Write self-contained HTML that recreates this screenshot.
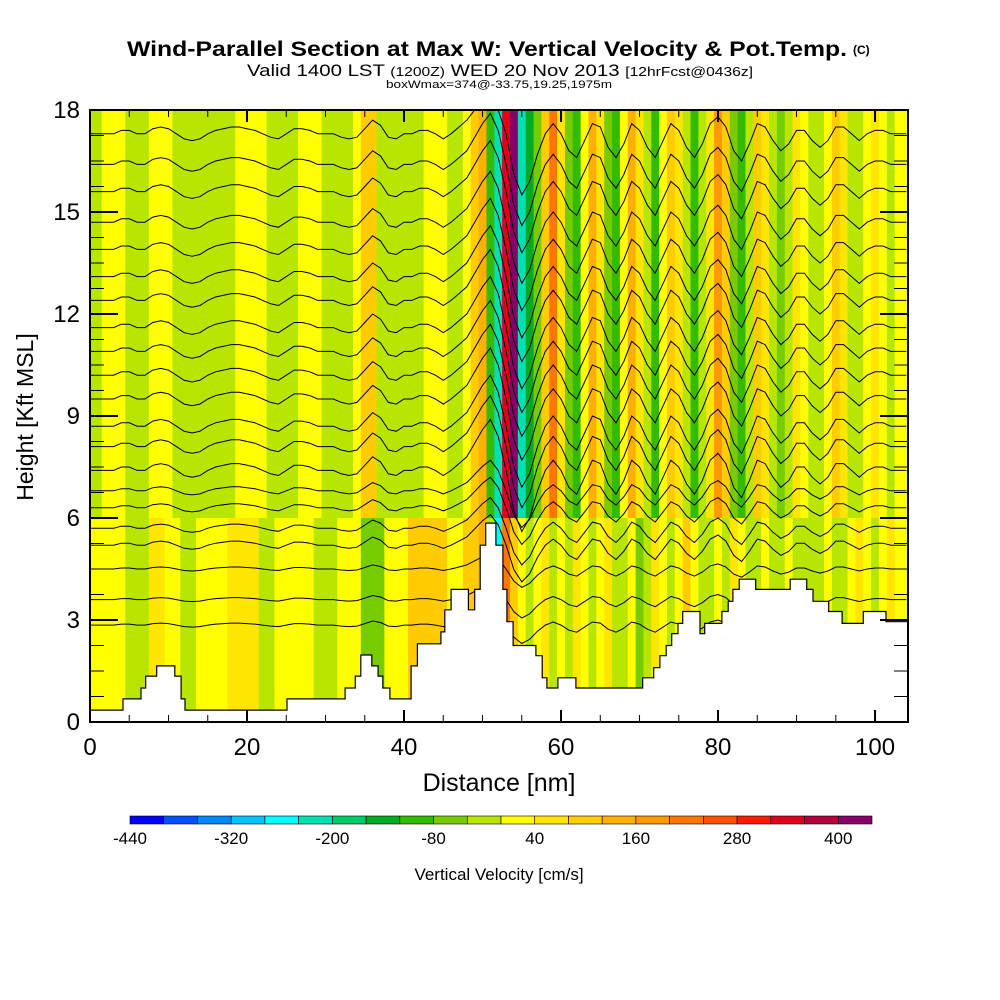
<!DOCTYPE html>
<html><head><meta charset="utf-8">
<style>
html,body{margin:0;padding:0;background:#fff;}
svg{display:block;font-family:"Liberation Sans",Arial,sans-serif;}
</style></head>
<body>
<svg id="chart" width="1000" height="1000" viewBox="0 0 1000 1000" xmlns="http://www.w3.org/2000/svg">
<text x="127" y="56" font-size="21" font-weight="bold" textLength="720" lengthAdjust="spacingAndGlyphs">Wind-Parallel Section at Max W: Vertical Velocity &amp; Pot.Temp.</text>
<text x="853" y="54" font-size="12" font-weight="bold">(C)</text>
<text x="247" y="76" font-size="17" textLength="506" lengthAdjust="spacingAndGlyphs">Valid 1400 LST <tspan font-size="13">(1200Z)</tspan> WED 20 Nov 2013 <tspan font-size="13">[12hrFcst@0436z]</tspan></text>
<text x="386" y="88" font-size="11" textLength="226" lengthAdjust="spacingAndGlyphs">boxWmax=374@-33.75,19.25,1975m</text>
<g id="field"></g>
<g id="contours"></g>
<g id="terrain"></g>
<g id="axes"></g>
<g id="cbar"></g>
<text x="499" y="791" font-size="25" text-anchor="middle">Distance [nm]</text>
<text transform="translate(33,417) rotate(-90)" font-size="23" text-anchor="middle">Height [Kft MSL]</text>
<text x="499" y="880" font-size="17" text-anchor="middle">Vertical Velocity [cm/s]</text>
</svg>
<script>
// ---- data ----
const wUpper = [-20,-20,30,30,30,-20,-20,-20,30,30,30,-20,-40,-40,-40,-20,-20,-20,-20,30,30,30,30,-20,-20,-20,-20,30,30,30,-20,-20,-20,-20,30,100,100,-40,-40,-20,-20,-20,-20,30,30,30,-20,-20,30,100,140,-120,-240,320,400,-240,-160,-80,100,200,60,-80,-120,30,140,60,-80,-120,30,140,60,-40,-120,30,100,60,-40,-120,-40,60,180,100,-80,-120,-20,100,60,-40,-80,-20,60,30,-40,-40,30,100,60,-20,-40,30,60,30,-20,30,30];
const wLower = [30,30,30,30,30,-20,-20,-20,60,60,30,30,-40,-40,30,30,30,30,60,60,60,60,-40,-40,30,30,30,30,30,-20,-20,-20,30,30,30,-80,-80,-80,30,30,30,100,100,100,100,100,30,30,100,100,140,-40,-280,200,100,30,-40,30,60,-20,30,-40,60,30,-40,30,60,-40,-20,30,-80,-20,60,30,-40,30,100,30,-40,-20,30,-40,60,30,-20,-40,30,-20,-40,30,-20,-40,-20,-20,30,-40,-20,30,60,30,-20,30,60,30,30];
const terrainX = [0,4.2,6.5,7.1,8.5,10.8,11.6,12.1,25.1,32.5,33.8,34.5,35.9,36.7,37.3,38.2,40.9,41.7,44.7,45.2,46.0,48.2,49.0,49.7,50.4,51.7,52.6,53.1,53.9,56.8,57.6,58.2,59.6,61.9,70.4,71.8,72.6,73.4,74.1,74.9,75.5,77.7,78.3,80.5,81.3,81.9,82.7,84.8,89.2,91.3,92.1,94.1,95.8,98.5,101.4];
const terrainH = [0.35,0.68,1.0,1.35,1.65,1.35,0.68,0.35,0.68,1.0,1.35,1.97,1.65,1.35,1.0,0.68,1.65,2.3,2.65,3.3,3.9,3.3,3.9,5.2,5.85,5.2,3.9,2.95,2.25,1.95,1.3,1.0,1.3,1.0,1.3,1.6,1.95,2.25,2.6,2.9,3.25,2.6,2.9,3.25,3.55,3.9,4.2,3.9,4.2,3.9,3.55,3.25,2.9,3.25,2.95];
const thetaLevels = [17.3,16.4,15.6,14.7,13.9,13.1,12.4,11.6,10.9,10.2,9.5,8.7,8.1,7.4,6.8,6.3,5.7,5.2,4.5,3.6,2.85];
const thetaDisp = [0,0,0,0,0.1,0.1,0,0,0.15,0.2,0.15,0,-0.15,-0.2,-0.15,0,0.1,0.15,0.2,0.2,0.15,0.1,0,-0.1,-0.15,0,0.15,0.15,0.1,0,0,0,-0.1,-0.15,-0.1,0.15,0.4,0.25,-0.1,-0.15,0,0,0.1,0.1,0,-0.15,0,0.2,0.4,0.8,1.2,1.5,1.0,0,-1.2,-1.8,-1.4,-0.6,0,0.3,0,-0.5,-0.7,-0.2,0.3,0.2,-0.4,-0.7,-0.3,0.3,0.1,-0.4,-0.7,-0.2,0.3,0.1,-0.4,-0.7,-0.3,0.3,0.5,0.2,-0.5,-0.8,-0.3,0.3,0.2,-0.2,-0.5,-0.3,0.1,0.1,-0.2,-0.4,-0.2,0.2,0.2,0,-0.2,0,0.1,0.1,0,0,0];
const xTicks = [0,20,40,60,80,100];
const yTicks = [0,3,6,9,12,15,18];
const cbarLabels = [-440,-320,-200,-80,40,160,280,400];
const cbarColors = ["#0000ff","#0050ff","#0088ff","#00c4ff","#00ffff","#00e0b0","#00cc66","#00aa22","#33bb00","#77cc00","#b8e600","#ffff00","#ffe600","#ffcc00","#ffb000","#ff9900","#ff7700","#ff5000","#ff1a00","#e00020","#b00040","#880066"];

// ---- scales ----
const X0=90,X1=908,Y0=722,Y1=110,XMAX=104.2,YMAX=18;
const sx=v=>X0+(v/XMAX)*(X1-X0);
const sy=v=>Y0-(v/YMAX)*(Y0-Y1);
const NS="http://www.w3.org/2000/svg";
function mk(tag,attrs,parent){const e=document.createElementNS(NS,tag);for(const k in attrs)e.setAttribute(k,attrs[k]);parent.appendChild(e);return e;}
function colorFor(v){let i=Math.floor((v+440)/40);i=Math.max(0,Math.min(cbarColors.length-1,i));return cbarColors[i];}

// ---- field ----
const field=document.getElementById('field');
const SPLIT=6;
for(let i=0;i<wUpper.length;i++){
  const xa=sx(i-0.5<0?0:i-0.5), xb=sx(Math.min(XMAX,i+0.5));
  const r1=mk('rect',{x:xa,y:Y1,width:xb-xa+0.6,height:sy(SPLIT)-Y1,fill:colorFor(wUpper[i])},field);
  
  
  const r2=mk('rect',{x:xa,y:sy(SPLIT),width:xb-xa+0.6,height:Y0-sy(SPLIT),fill:colorFor(wLower[i])},field);
  
  
}

// ---- contours ----
const cg=document.getElementById('contours');
thetaLevels.forEach(lv=>{
  const amp = lv>=7?1:(lv>=5?0.6:0.3);
  let d='';
  for(let i=0;i<thetaDisp.length;i++){
    const nx=Math.min(i,XMAX);
    const yy=sy(lv+thetaDisp[i]*amp);
    d+=(i===0?'M':'L')+sx(nx).toFixed(1)+','+Math.max(Y1,yy).toFixed(1);
  }
  const p=mk('path',{d:d,fill:'none',stroke:'#000','stroke-width':1},cg);
  
  
});

// ---- terrain ----
const tg=document.getElementById('terrain');
let td='M'+sx(0)+','+Y0;
for(let i=0;i<terrainX.length;i++){
  const xs=sx(terrainX[i]), xe=sx(i+1<terrainX.length?terrainX[i+1]:XMAX);
  td+=' L'+xs.toFixed(1)+','+sy(terrainH[i]).toFixed(1)+' L'+xe.toFixed(1)+','+sy(terrainH[i]).toFixed(1);
}
td+=' L'+X1+','+Y0+' Z';
const tp=mk('path',{d:td,fill:'#fff',stroke:'#000','stroke-width':1.2},tg);



// ---- axes ----
const ag=document.getElementById('axes');
const frame=mk('rect',{x:X0,y:Y1,width:X1-X0,height:Y0-Y1,fill:'none',stroke:'#000','stroke-width':2},ag);


for(let v=0;v<=XMAX;v+=5){
  const major=v%20===0;
  const L=major?12:7;
  const t1=mk('line',{x1:sx(v),y1:Y0,x2:sx(v),y2:Y0-L,stroke:'#000','stroke-width':major?2:1},ag);
  
  
  const t2=mk('line',{x1:sx(v),y1:Y1,x2:sx(v),y2:Y1+L,stroke:'#000','stroke-width':major?2:1},ag);
  
  
}
xTicks.forEach(v=>{
  const t=mk('text',{x:sx(v),y:Y0+33,'font-size':24,'text-anchor':'middle'},ag);
  t.textContent=v;
  
  
});
for(let v=0;v<=YMAX;v+=0.75){
  const major=Math.abs(v%3)<0.01;
  const L=major?28:14;
  const t1=mk('line',{x1:X0,y1:sy(v),x2:X0+L,y2:sy(v),stroke:'#000','stroke-width':major?2:1},ag);
  
  
  const t2=mk('line',{x1:X1,y1:sy(v),x2:X1-L,y2:sy(v),stroke:'#000','stroke-width':major?2:1},ag);
  
  
}
yTicks.forEach(v=>{
  const t=mk('text',{x:X0-10,y:sy(v)+8,'font-size':24,'text-anchor':'end'},ag);
  t.textContent=v;
  
  
});

// ---- colorbar ----
const cb=document.getElementById('cbar');
const CB0=130,CB1=872,CBY=816,CBH=8;
const cw=(CB1-CB0)/cbarColors.length;
cbarColors.forEach((c,i)=>{
  const r=mk('rect',{x:CB0+i*cw,y:CBY,width:cw,height:CBH,fill:c,stroke:'#000','stroke-width':0.6},cb);
  
  
});
cbarLabels.forEach(v=>{
  const idx=(v+440)/40;
  const t=mk('text',{x:CB0+idx*cw,y:844,'font-size':17,'text-anchor':'middle'},cb);
  t.textContent=v;
  
  
});
</script>
</body></html>
